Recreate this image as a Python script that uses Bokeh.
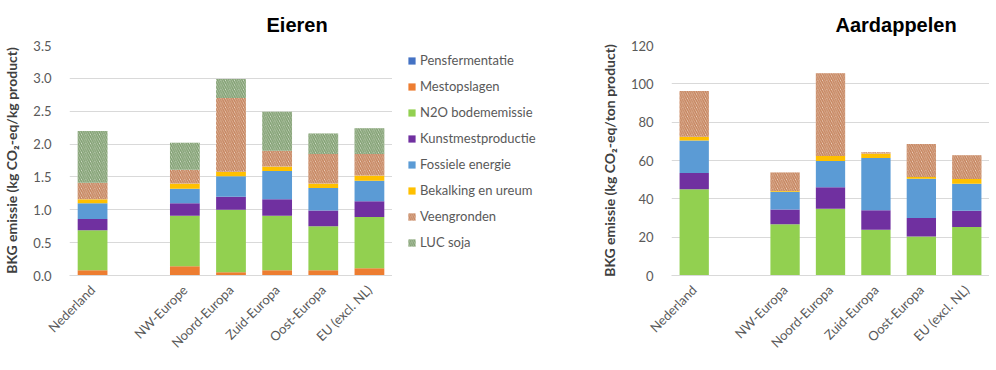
from math import pi
from bokeh.plotting import figure
from bokeh.models import (FactorRange, Legend, LegendItem, ColumnDataSource,
                          SingleIntervalTicker, NumeralTickFormatter, Range1d)
from bokeh.layouts import row
from bokeh.embed import file_html
from bokeh.resources import INLINE

series = ["Pensfermentatie", "Mestopslagen", "N2O bodememissie", "Kunstmestproductie",
          "Fossiele energie", "Bekalking en ureum", "Veengronden", "LUC soja"]

eggs_regions = ["Nederland", " ", "NW-Europe", "Noord-Europa", "Zuid-Europa", "Oost-Europa", "EU (excl. NL)"]
eggs_pens = [0, 0, 0, 0, 0, 0, 0]
eggs_mest = [0.08, 0, 0.14, 0.05, 0.08, 0.08, 0.11]
eggs_n2o = [0.61, 0, 0.77, 0.95, 0.83, 0.67, 0.78]
eggs_kunst = [0.17, 0, 0.19, 0.20, 0.25, 0.24, 0.24]
eggs_foss = [0.24, 0, 0.22, 0.31, 0.43, 0.34, 0.31]
eggs_bek = [0.06, 0, 0.08, 0.07, 0.07, 0.07, 0.08]
eggs_veen = [0.25, 0, 0.21, 1.12, 0.24, 0.45, 0.33]
eggs_luc = [0.79, 0, 0.41, 0.29, 0.59, 0.31, 0.39]

pot_regions = ["Nederland", " ", "NW-Europa", "Noord-Europa", "Zuid-Europa", "Oost-Europa", "EU (excl. NL)"]
pot_pens = [0, 0, 0, 0, 0, 0, 0]
pot_mest = [0, 0, 0, 0, 0, 0, 0]
pot_n2o = [45.0, 0, 26.8, 34.8, 23.9, 20.4, 25.3]
pot_kunst = [8.5, 0, 7.7, 11.2, 10.2, 9.6, 8.5]
pot_foss = [16.9, 0, 9.2, 13.7, 27.2, 20.5, 14.1]
pot_bek = [2.0, 0, 0.4, 2.6, 2.4, 0.9, 2.4]
pot_veen = [23.9, 0, 9.7, 43.2, 0.6, 17.2, 12.4]
pot_luc = [0, 0, 0, 0, 0, 0, 0]

fill_colors = ["#4472C4", "#ED7D31", "#92D050", "#7030A0", "#5B9BD5", "#FFC000", "#F3DED0", "#DFE9D8"]
hatch_patterns = [" ", " ", " ", " ", " ", " ", "\\", "\\"]
hatch_colors = ["#000000"] * 6 + ["#C5845E", "#819F72"]

FONT = "Lato"
GREY = "#595959"
H = 362


def make_fig(regions, values, y_max, y_step, fmt, ylabel, title, width, mbl, mbr, title_offset):
    data = {"region": regions}
    for s, v in zip(series, values):
        data[s] = v
    src = ColumnDataSource(data)
    p = figure(x_range=FactorRange(factors=regions, range_padding=0),
               y_range=Range1d(0, y_max), width=width, height=H,
               output_backend="svg", toolbar_location=None,
               min_border_left=mbl, min_border_right=mbr, min_border_top=45, min_border_bottom=87)
    p.title.text = title
    p.title.align = "left"
    p.title.offset = title_offset
    p.title.standoff = 19
    p.title.text_font = "Liberation Sans"
    p.title.text_font_size = "20px"
    p.title.text_font_style = "bold"
    p.title.text_color = "#000000"
    rs = p.vbar_stack(series, x="region", width=0.645, source=src,
                      fill_color=fill_colors, line_color=None,
                      hatch_pattern=hatch_patterns, hatch_color=hatch_colors,
                      hatch_scale=4.5, hatch_weight=1.6)
    p.outline_line_color = None
    p.xgrid.grid_line_color = None
    p.ygrid.grid_line_color = "#D9D9D9"
    p.yaxis.ticker = SingleIntervalTicker(interval=y_step)
    p.yaxis.formatter = NumeralTickFormatter(format=fmt)
    p.yaxis.axis_line_color = None
    p.yaxis.major_tick_line_color = None
    p.yaxis.minor_tick_line_color = None
    p.yaxis.axis_label = ylabel
    p.yaxis.axis_label_text_font = FONT
    p.yaxis.axis_label_text_font_style = "bold"
    p.yaxis.axis_label_text_font_size = "14px"
    p.yaxis.axis_label_text_color = "#404040"
    p.yaxis.axis_label_standoff = 10
    for ax in (p.xaxis, p.yaxis):
        ax.major_label_text_font = FONT
        ax.major_label_text_font_size = "13px"
        ax.major_label_text_color = GREY
    p.yaxis.major_label_standoff = 12
    p.xaxis.axis_line_color = "#D9D9D9"
    p.xaxis.major_tick_line_color = None
    p.xaxis.minor_tick_line_color = None
    p.xaxis.major_label_orientation = pi / 4
    p.xaxis.major_label_standoff = 6
    return p, rs


eggs_vals = [eggs_pens, eggs_mest, eggs_n2o, eggs_kunst, eggs_foss, eggs_bek, eggs_veen, eggs_luc]
pot_vals = [pot_pens, pot_mest, pot_n2o, pot_kunst, pot_foss, pot_bek, pot_veen, pot_luc]

p1, rs1 = make_fig(eggs_regions, eggs_vals, 3.5, 0.5, "0.0",
                   "BKG emissie (kg CO\u2082-eq/kg product)", "Eieren", 392, 64, 0, 197)

# legend panel (same series styles; one zero-height row outside the view)
pl = figure(width=205, height=H, output_backend="svg", toolbar_location=None,
            x_axis_type=None, y_axis_type=None, x_range=Range1d(0, 1), y_range=Range1d(0, 1),
            min_border_left=0, min_border_right=0, min_border_top=0, min_border_bottom=0)
pl.outline_line_color = None
pl.xgrid.grid_line_color = None
pl.ygrid.grid_line_color = None
dummy = ColumnDataSource({"region": [-10.0], **{s: [0.0] for s in series}})
rsl = pl.vbar_stack(series, x="region", width=0.645, source=dummy,
                    fill_color=fill_colors, line_color=None,
                    hatch_pattern=hatch_patterns, hatch_color=hatch_colors,
                    hatch_scale=4.5, hatch_weight=1.6)
legend = Legend(items=[LegendItem(label=s, renderers=[r]) for s, r in zip(series, rsl)],
                location=(15, 25), border_line_color=None, background_fill_alpha=0,
                glyph_width=9, glyph_height=9, label_height=14, spacing=10,
                label_standoff=4, padding=4, margin=0,
                label_text_font=FONT, label_text_font_size="13px", label_text_color=GREY)
pl.add_layout(legend, "center")

p2, rs2 = make_fig(pot_regions, pot_vals, 120, 20, "0",
                   "BKG emissie (kg CO\u2082-eq/ton product)", "Aardappelen", 392, 67, 0, 164)

layout = row(p1, pl, p2)
open("out.html", "w").write(file_html(layout, INLINE))
